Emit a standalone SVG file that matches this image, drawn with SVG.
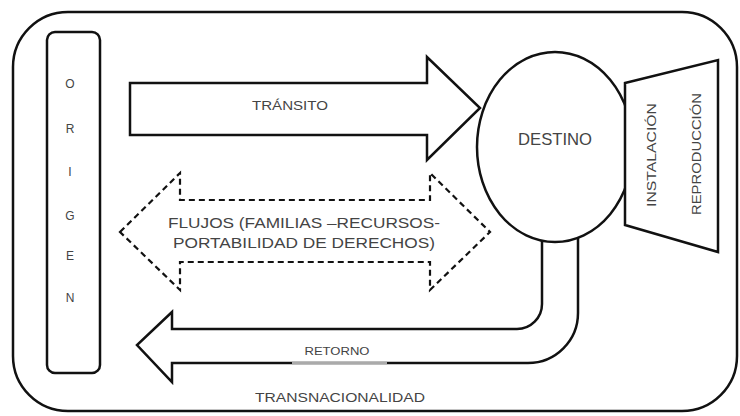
<svg xmlns="http://www.w3.org/2000/svg" width="740" height="416" viewBox="0 0 740 416">
<style>
.s{fill:#fff;stroke:#111;stroke-width:2.5;stroke-linejoin:miter}
.d{fill:#fff;stroke:#111;stroke-width:2.2;stroke-dasharray:6 4}
.t{font-family:"Liberation Sans",Arial,sans-serif;fill:#444;text-anchor:middle}
</style>
<rect width="740" height="416" fill="#fff"/>
<g id="frame">
<rect class="s" x="13" y="12" width="724" height="399" rx="55" ry="55"/>
<text class="t" x="340" y="402" font-size="13" textLength="170" lengthAdjust="spacingAndGlyphs">TRANSNACIONALIDAD</text>
</g>
<g id="origen">
<rect class="s" x="47" y="32" width="53" height="341" rx="8"/>
<g class="t" font-size="12">
<text x="70" y="88">O</text>
<text x="70" y="133">R</text>
<text x="70" y="176">I</text>
<text x="70" y="220">G</text>
<text x="70" y="260">E</text>
<text x="70" y="302">N</text>
</g>
</g>
<g id="connectors">
<g id="transito">
<polygon class="s" points="130,83 427,83 427,57 480,108 427,160 427,135 130,135"/>
<text class="t" x="290" y="110" font-size="13" textLength="76" lengthAdjust="spacingAndGlyphs">TRÁNSITO</text>
</g>
<g id="flujos">
<polygon class="d" points="120,232 180,173 180,200 430,200 430,173 490,232 430,290 430,262 180,262 180,290"/>
<text class="t" x="304" y="228" font-size="14" textLength="272" lengthAdjust="spacingAndGlyphs">FLUJOS (FAMILIAS –RECURSOS-</text>
<text class="t" x="304" y="248" font-size="14" textLength="262" lengthAdjust="spacingAndGlyphs">PORTABILIDAD  DE DERECHOS)</text>
</g>
<g id="retorno">
<path class="s" d="M578 236 L578 313 A50 50 0 0 1 528 363 L172 363 L172 382 L137 345 L172 312 L172 329 L517 329 A25 25 0 0 0 542 304 L542 236"/>
<line x1="292" y1="363" x2="387" y2="363" stroke="#aaa" stroke-width="2.6"/>
<text class="t" x="337" y="355" font-size="11" textLength="65" lengthAdjust="spacingAndGlyphs">RETORNO</text>
</g>
</g>
<g id="destino">
<ellipse class="s" cx="555" cy="147" rx="78" ry="95"/>
<text class="t" x="555" y="145" font-size="17" textLength="74" lengthAdjust="spacingAndGlyphs">DESTINO</text>
</g>
<g id="instalacion">
<polygon class="s" points="625,83 718,60 718,252 625,225"/>
<text class="t" font-size="12" transform="translate(656,155) rotate(-90)" textLength="104" lengthAdjust="spacingAndGlyphs">INSTALACIÓN</text>
<text class="t" font-size="12" transform="translate(701,154) rotate(-90)" textLength="122" lengthAdjust="spacingAndGlyphs">REPRODUCCIÓN</text>
</g>
</svg>
